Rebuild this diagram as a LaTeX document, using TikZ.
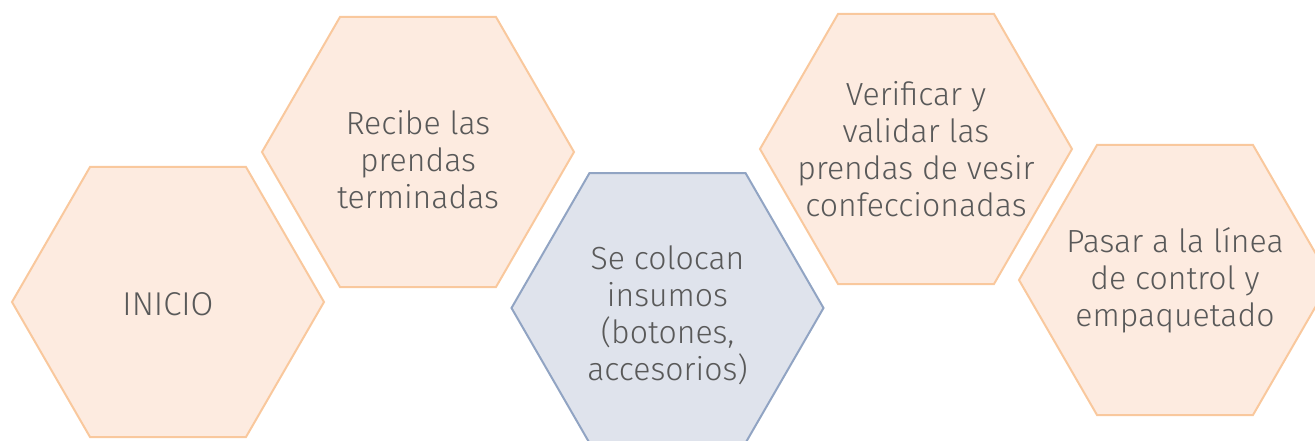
\documentclass[tikz,border=0pt]{standalone}
\usepackage{fontspec}
\setmainfont{Fira Sans Light}
\definecolor{txt}{HTML}{595959}
\definecolor{ofill}{HTML}{FDEBE0}
\definecolor{oline}{HTML}{F9C89D}
\definecolor{bfill}{HTML}{DFE3EC}
\definecolor{bline}{HTML}{91A4C3}
\tikzset{
  hexo/.style={fill=ofill,draw=oline,line width=2pt,line join=miter},
  hexb/.style={fill=bfill,draw=bline,line width=2pt,line join=miter},
  lbl/.style={text=txt,align=center,font=\fontsize{32}{37}\selectfont,inner sep=0pt}
}
\newcommand{\hexpath}[3]{%
  \path[#3] (#1+156,#2) -- (#1+78,#2+135) -- (#1-78,#2+135) -- (#1-156,#2) -- (#1-78,#2-135) -- (#1+78,#2-135) -- cycle;}
\begin{document}
\begin{tikzpicture}[x=1pt,y=1pt]
\useasboundingbox (0,0) rectangle (1315,440);
\clip (0,0) rectangle (1315,440);
\hexpath{168}{138}{hexo}
\hexpath{418}{288}{hexo}
\hexpath{667.5}{132}{hexb}
\hexpath{916}{291}{hexo}
\hexpath{1175}{160}{hexo}
\node[lbl,font=\fontsize{33}{37}\selectfont] (n1) at (168,136) {INICIO};
\node[lbl] (n2) at (418,280) {Recibe las\\prendas\\terminadas};
\node[lbl] (n3) at (667.5,125) {Se colocan\\insumos\\(botones,\\accesorios)};
\node[lbl] (n4) at (916,291) {Verificar y\\validar las\\prendas de vesir\\confeccionadas};
\node[lbl] (n5) at (1175,160) {Pasar a la línea\\de control y\\empaquetado};
\end{tikzpicture}
\end{document}
